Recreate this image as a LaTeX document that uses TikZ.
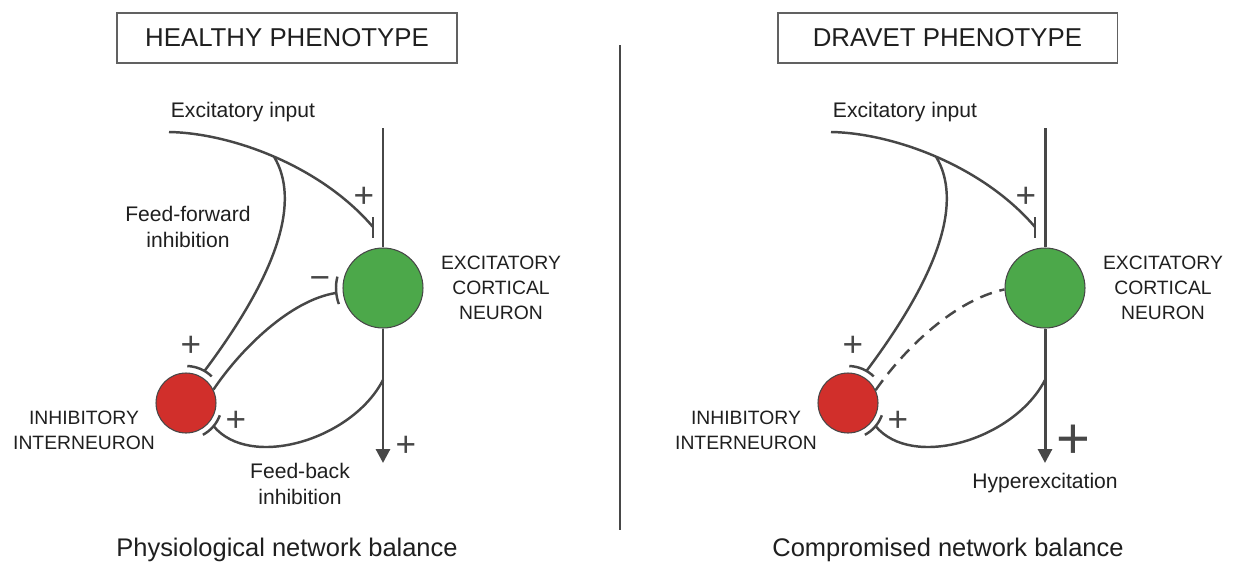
\documentclass[tikz,border=0pt]{standalone}
\usepackage{fontspec}
\setmainfont{Liberation Sans}
\usetikzlibrary{arrows.meta}
\definecolor{linegray}{HTML}{474747}
\definecolor{cellgreen}{HTML}{4CA84A}
\definecolor{cellred}{HTML}{D12F2B}

\begin{document}
\begin{tikzpicture}[x=0.02cm, y=0.02cm, font=\fontsize{12}{14.5}\selectfont, text=black!88,
  Title/.style={draw=black!62, line width=1.1pt, minimum width=6.8cm, minimum height=1cm, font=\fontsize{14.7}{17}\selectfont},
  Neuron/.style={circle, draw=linegray, line width=0.6pt, inner sep=0pt},
  Wire/.style={draw=linegray, line width=1.4pt},
  Axon/.style={Wire, line width=1.7pt, -{Triangle[width=0.28cm, length=0.28cm]}},
  Label/.style={align=center, inner sep=0pt},
  CapsLabel/.style={Label, font=\fontsize{11}{14.2}\selectfont},
  Sign/.style={text=linegray, inner sep=0pt, font=\fontsize{20}{20}\selectfont},
  Caption/.style={inner sep=0pt, font=\fontsize{14.5}{17}\selectfont}]

\useasboundingbox (0,0) rectangle (1235,-562);

\node [Title] (healthy) at (287,-38) {HEALTHY PHENOTYPE};
\node [Title] (dravet) at (947.5,-38) {DRAVET PHENOTYPE};

\coordinate (divtop) at (620,-45);
\coordinate (divbot) at (620,-530);
\draw [linegray, line width=1pt] (divtop) -- (divbot);

\foreach \off/\side in {0/h, 662/d} {
  \begin{scope}[shift={(\off,0)}]
    \coordinate (top\side) at (383,-128);
    \coordinate (out\side) at (383,-463);
    \coordinate (fb\side) at (383,-380);
    \coordinate (in\side) at (169,-132);
    \coordinate (syn\side) at (373,-227);

    \node [Neuron, fill=cellgreen, minimum size=1.6cm] (exc\side) at (383,-288) {};
    \node [Neuron, fill=cellred, minimum size=1.2cm] (inh\side) at (186,-403) {};

    \draw [Wire, line width=1.7pt] (top\side) -- (exc\side);
    \draw [Axon] (exc\side) -- (out\side);

    \draw [Wire] (in\side) .. controls (230,-133) and (320,-165) .. (syn\side) coordinate [pos=0.5] (split\side);
    \draw [Wire] ([shift={(0,10)}]syn\side) -- ([shift={(0,-11)}]syn\side);

    \draw [Wire] (split\side) .. controls (300,-200) and (280,-270) .. ([shift={(60:37)}]inh\side.center);
    \draw [Wire] ([shift={(46:37)}]inh\side.center) arc [start angle=46, end angle=88, radius=37];

    \draw [Wire] (fb\side) .. controls (352,-440) and (250,-470) .. ([shift={(-40:36)}]inh\side.center);
    \draw [Wire] ([shift={(-62:36)}]inh\side.center) arc [start angle=-62, end angle=-20, radius=36];

    \node [Sign] (plussyn\side) at (364,-197) {+};
    \node [Sign] (plusff\side) at (191,-346) {+};
    \node [Sign] (plusfb\side) at (236,-421) {+};

    \node [Label, anchor=base] (inlabel\side) at (243,-117) {Excitatory input};
    \node [CapsLabel] (exclabel\side) at (501,-288) {EXCITATORY\\CORTICAL\\NEURON};
    \node [CapsLabel] (inhlabel\side) at (84,-430) {INHIBITORY\\INTERNEURON};
  \end{scope}
}

\draw [Wire] (inhh.26) .. controls (240,-350) and (290,-300) .. ([shift={(186:47)}]exch.center);
\draw [Wire] ([shift={(166:47)}]exch.center) arc [start angle=166, end angle=200, radius=47];
\node [Sign] (minus) at (320,-283) {−};
\node [Label] (fflabel) at (188,-227) {Feed-forward\\inhibition};
\node [Label] (fblabel) at (300,-484) {Feed-back\\inhibition};
\node [Sign] (plusout) at (406,-446) {+};
\node [Caption] (healthycap) at (287,-550) {Physiological network balance};

\draw [Wire, dash pattern=on 7pt off 4.5pt] (inhd.25) .. controls (905,-348) and (955,-300) .. (excd.182);
\node [Label, anchor=base] (hyperlabel) at (1045,-488) {Hyperexcitation};
\node [Sign, font=\fontsize{33}{33}\selectfont] (plusbig) at (1073,-442) {+};
\node [Caption] (dravetcap) at (948,-550) {Compromised network balance};
\end{tikzpicture}
\end{document}
